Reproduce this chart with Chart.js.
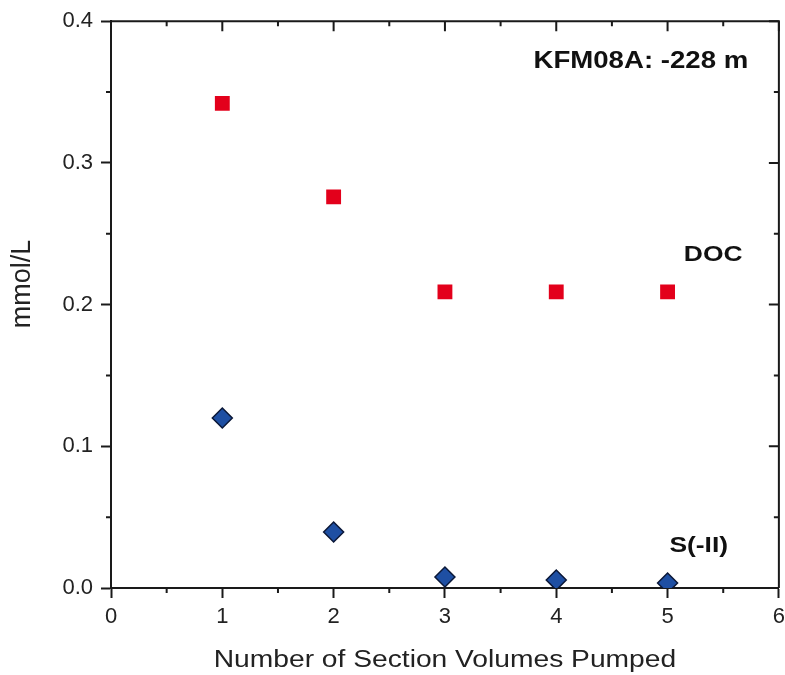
<!DOCTYPE html>
<html>
<head>
<meta charset="utf-8">
<script src="https://cdn.jsdelivr.net/npm/chart.js@4"></script>
<style>
    html, body { margin: 0; padding: 0; background: #fff; overflow: hidden; }
</style>
</head>
<body>
<!-- a bit wider than the window: Chart.js keeps ~12px right padding for the "6" label -->
<canvas id="chart" width="791" height="675" style="display:block"></canvas>
<script>
// Data
const volumes = [1, 2, 3, 4, 5];
const docValues = [0.342, 0.276, 0.209, 0.209, 0.209];
const sulfideValues = [0.120, 0.0395, 0.0078, 0.0056, 0.0035];
const xTicks = [0, 1, 2, 3, 4, 5, 6];
const yTicks = [0.0, 0.1, 0.2, 0.3, 0.4];

// Labels placed in data coordinates
const labelTexts = ['KFM08A: -228 m', 'DOC', 'S(-II)'];
const labelX = [4.76, 5.41, 5.28];
const labelY = [0.367, 0.2305, 0.0255];

const FONT = "'Liberation Sans', Arial, sans-serif";
const AXIS = '#1a1a1a';

function stretchText(ctx, text, x, y, size, bold) {
    ctx.save();
    ctx.translate(x, y);
    ctx.scale(1.2, 1);
    ctx.font = `${bold ? 'bold ' : ''}${size}px ${FONT}`;
    ctx.textAlign = 'center';
    ctx.textBaseline = 'alphabetic';
    ctx.fillText(text, 0, 0);
    ctx.restore();
}

const framePlugin = {
    id: 'frame',
    afterDraw(chart) {
        const ctx = chart.ctx;
        const area = chart.chartArea;
        const xs = chart.scales.x;
        const ys = chart.scales.y;

        ctx.save();
        ctx.strokeStyle = AXIS;
        ctx.lineWidth = 2;

        // top and right frame
        ctx.beginPath();
        ctx.moveTo(area.left, area.top);
        ctx.lineTo(area.right, area.top);
        ctx.lineTo(area.right, area.bottom);
        ctx.stroke();

        ctx.beginPath();
        // x ticks: top (inward), minor bottom (outward)
        for (let v = 0; v <= 6; v += 0.5) {
            const px = xs.getPixelForValue(v);
            const major = Number.isInteger(v);
            const len = major ? 10 : 5;
            ctx.moveTo(px, area.top);
            ctx.lineTo(px, area.top + len);
            if (!major) {
                ctx.moveTo(px, area.bottom);
                ctx.lineTo(px, area.bottom + len);
            }
        }
        // y ticks: right (inward), minor left (outward)
        for (let i = 0; i <= 8; i++) {
            const v = i * 0.05;
            const py = ys.getPixelForValue(v);
            const major = i % 2 === 0;
            const len = major ? 10 : 5;
            ctx.moveTo(area.right, py);
            ctx.lineTo(area.right - len, py);
            if (!major) {
                ctx.moveTo(area.left, py);
                ctx.lineTo(area.left - len, py);
            }
        }
        ctx.stroke();

        // annotations
        ctx.fillStyle = '#111';
        labelTexts.forEach((t, i) => {
            stretchText(ctx, t, xs.getPixelForValue(labelX[i]), ys.getPixelForValue(labelY[i]), i === 0 ? 23 : 22, true);
        });

        // axis titles
        ctx.fillStyle = '#222';
        stretchText(ctx, 'Number of Section Volumes Pumped', (area.left + area.right) / 2, 667, 23.5, false);

        ctx.save();
        ctx.translate(30, 284);
        ctx.rotate(-Math.PI / 2);
        ctx.font = `27px ${FONT}`;
        ctx.textAlign = 'center';
        ctx.textBaseline = 'alphabetic';
        ctx.fillText('mmol/L', 0, 0);
        ctx.restore();

        ctx.restore();
    }
};

const ctx = document.getElementById('chart').getContext('2d');
new Chart(ctx, {
    type: 'scatter',
    data: {
        datasets: [
            {
                label: 'DOC',
                data: volumes.map((v, i) => ({ x: v, y: docValues[i] })),
                pointStyle: 'rect',
                pointRadius: 10.5,
                pointHoverRadius: 10.5,
                backgroundColor: '#e3001b',
                borderColor: '#e3001b',
                borderWidth: 0
            },
            {
                label: 'S(-II)',
                data: volumes.map((v, i) => ({ x: v, y: sulfideValues[i] })),
                pointStyle: 'rectRot',
                pointRadius: 10,
                pointHoverRadius: 10,
                backgroundColor: '#1e4fa3',
                borderColor: '#0b1838',
                borderWidth: 1.5
            }
        ]
    },
    options: {
        responsive: false,
        animation: false,
        events: [],
        layout: { padding: { left: 0, right: 0, top: 21, bottom: 0 } },
        plugins: {
            legend: { display: false },
            tooltip: { enabled: false }
        },
        scales: {
            x: {
                type: 'linear',
                min: 0,
                max: 6,
                afterBuildTicks: scale => { scale.ticks = xTicks.map(v => ({ value: v })); },
                afterFit: scale => { scale.height = 87; },
                ticks: {
                    color: '#222',
                    padding: 6,
                    font: { family: FONT, size: 22 },
                    maxRotation: 0
                },
                grid: {
                    drawOnChartArea: false,
                    tickLength: 10,
                    tickWidth: 2,
                    tickColor: AXIS
                },
                border: { color: AXIS, width: 2 }
            },
            y: {
                type: 'linear',
                min: 0,
                max: 0.4,
                afterBuildTicks: scale => { scale.ticks = yTicks.map(v => ({ value: v })); },
                afterFit: scale => { scale.width = 111; },
                ticks: {
                    color: '#222',
                    padding: 8,
                    font: { family: FONT, size: 22 },
                    callback: v => v.toFixed(1)
                },
                grid: {
                    drawOnChartArea: false,
                    tickLength: 10,
                    tickWidth: 2,
                    tickColor: AXIS
                },
                border: { color: AXIS, width: 2 }
            }
        }
    },
    plugins: [framePlugin]
});
</script>
</body>
</html>
